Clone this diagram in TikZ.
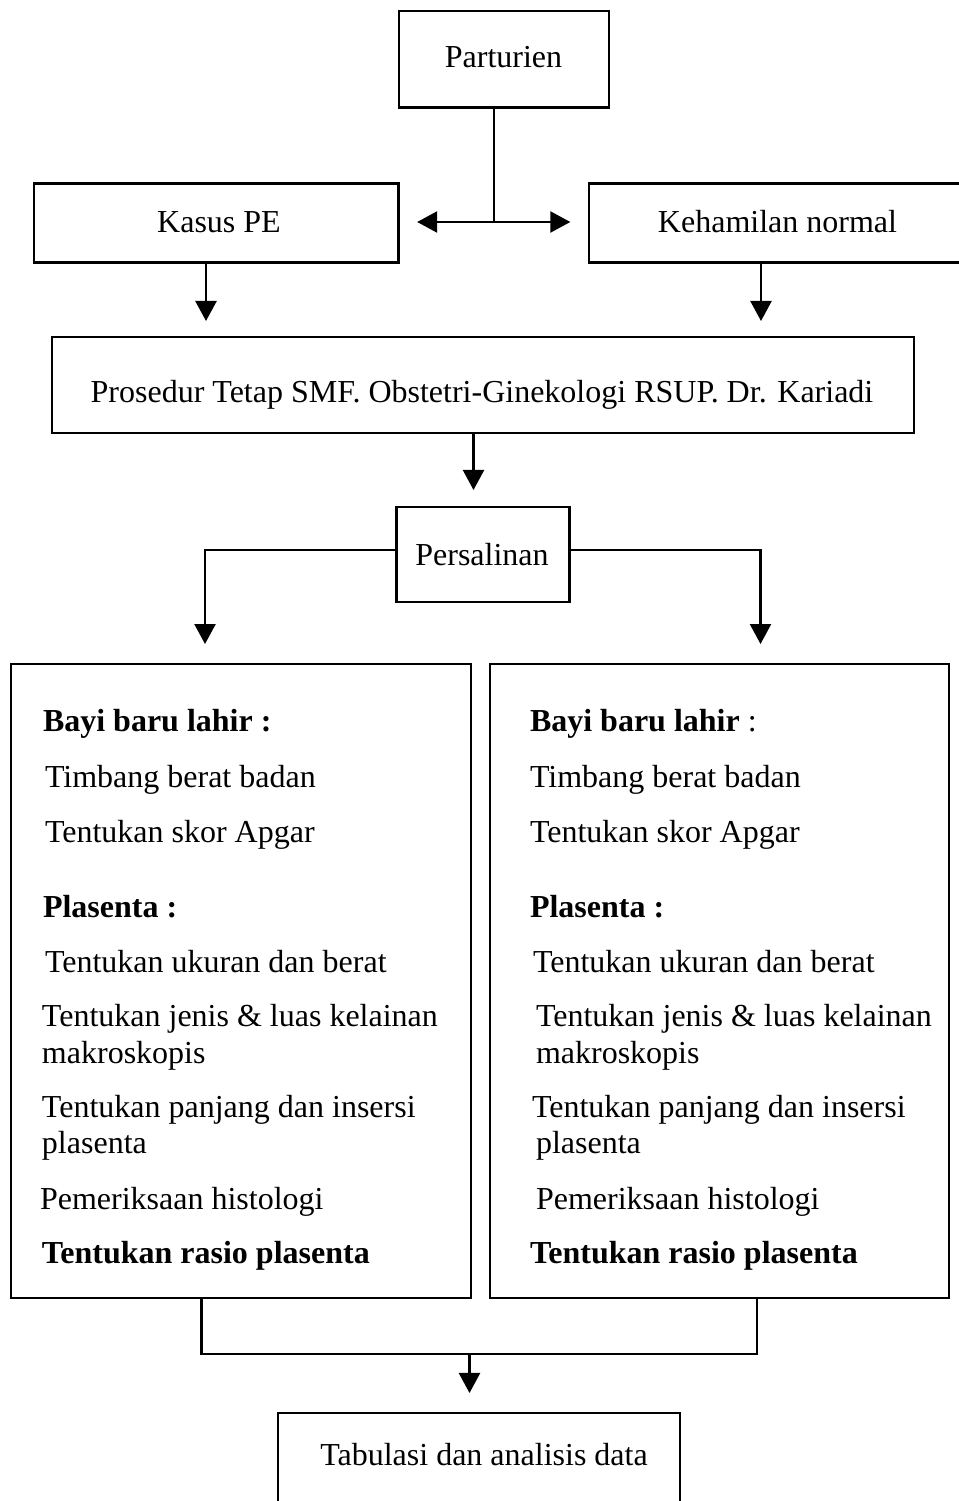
\documentclass[tikz,border=0pt]{standalone}
\usepackage{fontspec}
\setmainfont{Liberation Serif}
\usetikzlibrary{arrows.meta}
\begin{document}
\begin{tikzpicture}[x=0.375pt,y=-0.375pt,
  box/.style={draw, line width=0.8pt, inner sep=0pt, outer sep=0pt},
  lbl/.style={inner sep=0pt, outer sep=0pt, font=\fontsize{12}{14}\selectfont},
  conn/.style={line width=0.8pt},
  arr/.style={line width=0.8pt, -{Triangle[length=7.5pt,width=7.9pt]}},
  darr/.style={line width=0.8pt, {Triangle[length=7.5pt,width=7.9pt]}-{Triangle[length=7.5pt,width=7.9pt]}}]
\useasboundingbox (0,0) rectangle (958,1501);
% boxes
\node[box, minimum width=78.75pt, minimum height=36.2pt] (part) at (504,59.25) {};
\node[box, minimum width=136.7pt, minimum height=29.6pt] (kasus) at (216.25,223) {};
\node[box, minimum width=142.9pt, minimum height=29.6pt] (hamil) at (779.5,223) {};
\node[box, minimum width=323.25pt, minimum height=36pt] (pros) at (483,385) {};
\node[box, minimum width=64.9pt, minimum height=35.6pt] (pers) at (483,554.5) {};
\node[box, minimum width=172.5pt, minimum height=237.75pt] (L) at (241,981) {};
\node[box, minimum width=172.1pt, minimum height=237.75pt] (R) at (719.5,981) {};
\node[box, minimum width=150.75pt, minimum height=36.4pt] (tab) at (479,1461.5) {};
% box labels
\node[lbl, anchor=base] (tpart) at (503.5,68) {Parturien};
\node[lbl, anchor=base] (tkasus) at (219,233) {Kasus PE};
\node[lbl, anchor=base] (thamil) at (777.5,233) {Kehamilan normal};
\node[lbl, anchor=base] (tpros) at (482,402) {Prosedur Tetap SMF. Obstetri-Ginekologi RSUP. Dr. Kariadi};
\node[lbl, anchor=base] (tpers) at (482,565) {Persalinan};
\node[lbl, anchor=base] (ttab) at (484,1465) {Tabulasi dan analisis data};
% left box text
\node[lbl, anchor=base west] (l1) at (43,731) {\bfseries Bayi baru lahir :};
\node[lbl, anchor=base west] (l2) at (45,787) {Timbang berat badan};
\node[lbl, anchor=base west] (l3) at (45,842) {Tentukan skor Apgar};
\node[lbl, anchor=base west] (l4) at (43,917) {\bfseries Plasenta :};
\node[lbl, anchor=base west] (l5) at (45,972) {Tentukan ukuran dan berat};
\node[lbl, anchor=base west] (l6) at (42,1026) {Tentukan jenis \& luas kelainan};
\node[lbl, anchor=base west] (l7) at (42,1063) {makroskopis};
\node[lbl, anchor=base west] (l8) at (42,1117) {Tentukan panjang dan insersi};
\node[lbl, anchor=base west] (l9) at (42,1153) {plasenta};
\node[lbl, anchor=base west] (l10) at (40,1209) {Pemeriksaan histologi};
\node[lbl, anchor=base west] (l11) at (42,1263) {\bfseries Tentukan rasio plasenta};
% right box text
\node[lbl, anchor=base west] (r1) at (530,731) {{\bfseries Bayi baru lahir} :};
\node[lbl, anchor=base west] (r2) at (530,787) {Timbang berat badan};
\node[lbl, anchor=base west] (r3) at (530,842) {Tentukan skor Apgar};
\node[lbl, anchor=base west] (r4) at (530,917) {\bfseries Plasenta :};
\node[lbl, anchor=base west] (r5) at (533,972) {Tentukan ukuran dan berat};
\node[lbl, anchor=base west] (r6) at (536,1026) {Tentukan jenis \& luas kelainan};
\node[lbl, anchor=base west] (r7) at (536,1063) {makroskopis};
\node[lbl, anchor=base west] (r8) at (532,1117) {Tentukan panjang dan insersi};
\node[lbl, anchor=base west] (r9) at (536,1153) {plasenta};
\node[lbl, anchor=base west] (r10) at (536,1209) {Pemeriksaan histologi};
\node[lbl, anchor=base west] (r11) at (530,1263) {\bfseries Tentukan rasio plasenta};
% helper coordinates
\coordinate (j) at (494,222);
\coordinate (cL) at (206,0);
\coordinate (cR) at (761,0);
\coordinate (cM) at (473.5,0);
\coordinate (pL) at (205,550);
\coordinate (pR) at (760.5,550);
\coordinate (bL) at (201.5,1354);
\coordinate (bR) at (757,1354);
\coordinate (bM) at (469.5,1354);
% connectors
\draw[conn] (part.south -| j) -- (j);
\draw[darr] ([xshift=7pt]kasus.east |- j) -- ([xshift=-7pt]hamil.west |- j);
\draw[arr] (kasus.south -| cL) -- ([yshift=6pt]pros.north -| cL);
\draw[arr] (hamil.south -| cR) -- ([yshift=6pt]pros.north -| cR);
\draw[arr] (pros.south -| cM) -- ([yshift=6.4pt]pers.north -| cM);
\draw[arr] (pers.west |- pL) -- (pL) -- ([yshift=7.5pt]L.north -| pL);
\draw[arr] (pers.east |- pR) -- (pR) -- ([yshift=7.5pt]R.north -| pR);
\draw[conn] (L.south -| bL) -- (bL) -- (bR) -- (R.south -| bR);
\draw[arr] (bM) -- ([yshift=7.5pt]tab.north -| bM);
\end{tikzpicture}
\end{document}
